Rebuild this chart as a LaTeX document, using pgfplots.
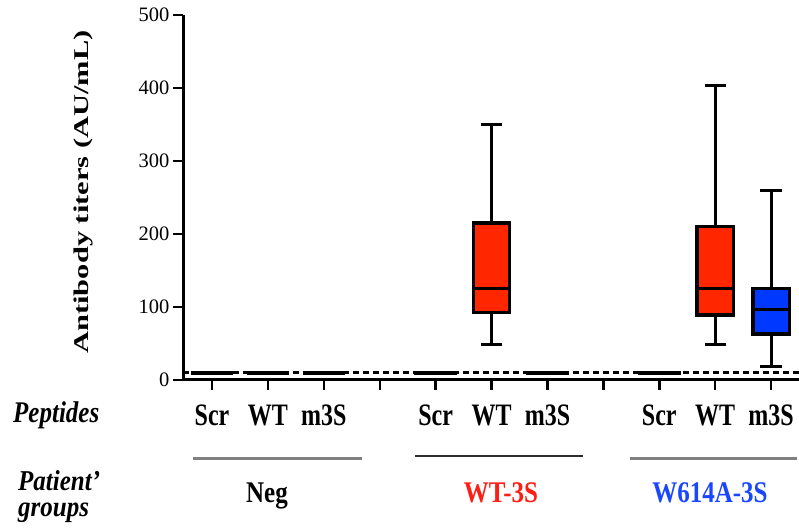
\documentclass[border=0pt]{standalone}
\usepackage{fontspec}
\setmainfont{Liberation Serif}
\usepackage{graphicx}
\usepackage{pgfplots}
\pgfplotsset{compat=1.18}
\definecolor{boxred}{RGB}{255,38,0}
\definecolor{boxblue}{RGB}{0,56,255}
\definecolor{txtred}{RGB}{255,30,20}
\definecolor{txtblue}{RGB}{25,70,255}
\definecolor{grpgray}{RGB}{128,128,128}
\definecolor{grpdark}{RGB}{45,45,45}
\newcommand\sx[1]{\scalebox{1}[1.3]{#1}}
\begin{document}
\begin{tikzpicture}
\path[use as bounding box] (0bp,0bp) rectangle (799bp,530bp);
\begin{axis}[
  at={(183bp,150bp)}, anchor=south west,
  scale only axis, width=616bp, height=365bp,
  xmin=-0.52, xmax=10.5, ymin=0, ymax=500,
  axis lines=left,
  axis line style={-, line width=3bp},
  tick align=outside,
  major tick length=10bp,
  tick style={line width=2.5bp, black},
  ytick={0,100,200,300,400,500},
  xtick={0,1,2,3,4,5,6,7,8,9,10},
  xticklabels={\sx{Scr},\sx{WT},\sx{m3S},,\sx{Scr},\sx{WT},\sx{m3S},,\sx{Scr},\sx{WT},\sx{m3S}},
  xticklabel style={font=\fontsize{24bp}{28bp}\selectfont\bfseries, anchor=base, yshift=-35bp},
  yticklabel style={font=\fontsize{20.5bp}{24bp}\selectfont},
  /pgf/number format/assume math mode=true,
  clip=false,
]
% collapsed groups at the detection limit
\addplot[black, line width=4bp, forget plot] coordinates {(-0.38,9) (0.38,9)};
\addplot[black, line width=4bp, forget plot] coordinates {(0.62,9) (1.38,9)};
\addplot[black, line width=4bp, forget plot] coordinates {(1.62,9) (2.38,9)};
\addplot[black, line width=4bp, forget plot] coordinates {(3.62,9) (4.38,9)};
\addplot[black, line width=4bp, forget plot] coordinates {(5.62,9) (6.38,9)};
\addplot[black, line width=4bp, forget plot] coordinates {(7.62,9) (8.38,9)};
% detection limit
\addplot[black, line width=2.5bp, dash pattern=on 6bp off 4bp] coordinates {(-0.52,10) (10.5,10)};
% WT-3S / WT
\addplot[black, line width=3bp] coordinates {(5,215) (5,350)};
\addplot[black, line width=3bp] coordinates {(4.81,350) (5.19,350)};
\addplot[black, line width=3bp] coordinates {(5,92) (5,49)};
\addplot[black, line width=3bp] coordinates {(4.81,49) (5.19,49)};
\addplot[draw=black, line width=3.3bp, fill=boxred] coordinates {(4.675,92) (5.325,92) (5.325,215) (4.675,215)} -- cycle;
\addplot[black, line width=3bp] coordinates {(4.675,125) (5.325,125)};
% W614A-3S / WT
\addplot[black, line width=3bp] coordinates {(9,210) (9,404)};
\addplot[black, line width=3bp] coordinates {(8.81,404) (9.19,404)};
\addplot[black, line width=3bp] coordinates {(9,89) (9,49)};
\addplot[black, line width=3bp] coordinates {(8.81,49) (9.19,49)};
\addplot[draw=black, line width=3.3bp, fill=boxred] coordinates {(8.675,89) (9.325,89) (9.325,210) (8.675,210)} -- cycle;
\addplot[black, line width=3bp] coordinates {(8.675,126) (9.325,126)};
% W614A-3S / m3S
\addplot[black, line width=3bp] coordinates {(10,125) (10,260)};
\addplot[black, line width=3bp] coordinates {(9.81,260) (10.19,260)};
\addplot[black, line width=3bp] coordinates {(10,63) (10,19)};
\addplot[black, line width=3bp] coordinates {(9.81,19) (10.19,19)};
\addplot[draw=black, line width=3.3bp, fill=boxblue] coordinates {(9.675,63) (10.325,63) (10.325,125) (9.675,125)} -- cycle;
\addplot[black, line width=3bp] coordinates {(9.675,97) (10.325,97)};
\end{axis}
% y label
\node[rotate=90] at (83bp,338bp) {\fontsize{21bp}{24bp}\selectfont\bfseries\scalebox{1.45}[1]{Antibody titers (AU/mL)}};
% row titles
\node[anchor=base west, inner sep=0pt] at (13bp,107bp) {\fontsize{25bp}{28bp}\selectfont\bfseries\itshape\scalebox{1}[1.2]{Peptides}};
\node[anchor=north west, inner sep=0pt, align=left, font=\fontsize{25bp}{26bp}\selectfont\bfseries\itshape] at (18bp,60bp) {\scalebox{1}[1.15]{Patient’}\\\scalebox{1}[1.15]{groups}};
% group lines
\draw[grpgray, line width=3bp] (193bp,71bp) -- (362bp,71bp);
\draw[grpdark, line width=2.5bp] (415bp,74bp) -- (583bp,74bp);
\draw[grpgray, line width=3bp] (630bp,71bp) -- (797bp,71bp);
% group labels
\node[anchor=base, inner sep=0pt] at (267bp,28bp) {\fontsize{25bp}{28bp}\selectfont\bfseries\scalebox{1}[1.2]{Neg}};
\node[anchor=base, inner sep=0pt, text=txtred] at (501bp,28bp) {\fontsize{25bp}{28bp}\selectfont\bfseries\scalebox{1}[1.2]{WT-3S}};
\node[anchor=base, inner sep=0pt, text=txtblue] at (710bp,28bp) {\fontsize{25bp}{28bp}\selectfont\bfseries\scalebox{1}[1.2]{W614A-3S}};
\end{tikzpicture}
\end{document}
